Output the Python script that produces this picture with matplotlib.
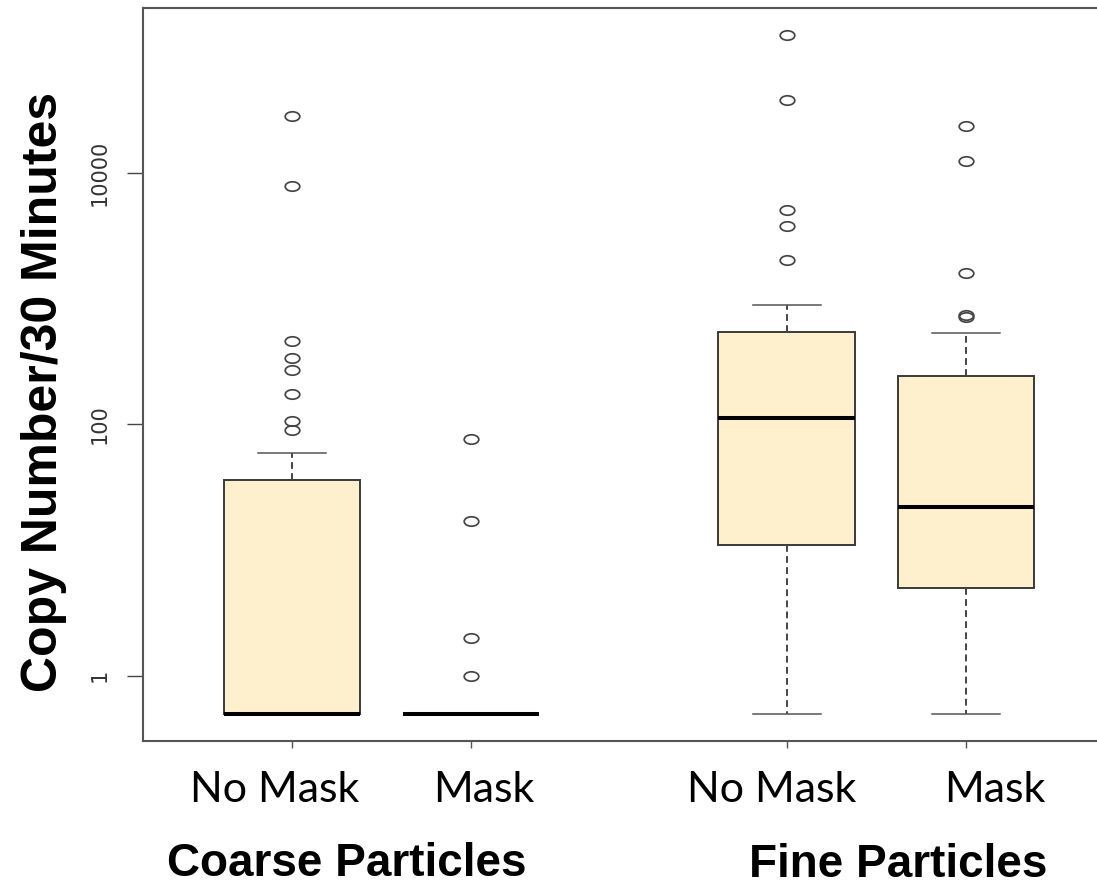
import matplotlib
matplotlib.use("Agg")
import matplotlib.pyplot as plt
from matplotlib.path import Path
from matplotlib.transforms import Affine2D
from matplotlib.ticker import FixedLocator, NullLocator, FixedFormatter

# box summary per group (copies / 30 min, zeros plotted as 0.5)
groups = ['No Mask', 'Mask', 'No Mask', 'Mask']
particles = ['Coarse Particles', 'Fine Particles']
q1 = [0.5, 0.5, 11.0, 5.0]
med = [0.5, 0.5, 113.0, 21.9]
q3 = [36.4, 0.5, 548.0, 242.0]
whislo = [0.5, 0.5, 0.5, 0.5]
whishi = [59.4, 0.5, 894.0, 535.0]
fliers = [
    [28700, 7850, 459, 336, 272, 174, 106, 91],
    [75.9, 17.0, 2.0, 1.0],
    [124800, 38400, 5130, 3830, 2025],
    [23750, 12400, 1616, 749, 713],
]
yticks = [1, 100, 10000]
ytick_labels = ['1', '100', '10000']

positions = [1, 2, 3.76, 4.76]

W, H = 1097, 886
fig = plt.figure(figsize=(W / 100, H / 100), dpi=100)

def fx(px):
    return px / W

def fy(py):
    return 1 - py / H

left, right, top, bottom = 143.3, 1112, 8.3, 740.7
ax = fig.add_axes([fx(left), fy(bottom), fx(right - left), (bottom - top) / H])

stats = []
for i in range(len(groups)):
    stats.append(dict(med=med[i], q1=q1[i], q3=q3[i], whislo=whislo[i],
                      whishi=whishi[i], fliers=fliers[i]))

# slightly squashed open circles for outliers
ellipse = Path.unit_circle().transformed(Affine2D().scale(1.55, 1.0))

ax.bxp(stats, positions=positions, widths=0.76, capwidths=0.38,
       patch_artist=True, showfliers=True,
       boxprops=dict(facecolor='#FFF0CD', edgecolor='#3a3a3a', linewidth=1.4),
       medianprops=dict(color='black', linewidth=2.9, solid_capstyle='butt'),
       whiskerprops=dict(color='#444444', linewidth=1.4, linestyle=(0, (3.5, 2.2))),
       capprops=dict(color='#555555', linewidth=1.1),
       flierprops=dict(marker=ellipse, markersize=10.5, markerfacecolor='none',
                       markeredgecolor='#444444', markeredgewidth=1.25))

ax.set_yscale('log')
ax.set_ylim(10 ** -0.517, 10 ** 5.312)
ax.set_xlim(0.172, 1 + (right - 291.7) / 179.3)

ax.yaxis.set_major_locator(FixedLocator(yticks))
ax.yaxis.set_major_formatter(FixedFormatter(ytick_labels))
ax.yaxis.set_minor_locator(NullLocator())
ax.set_xticks(positions)
ax.set_xticklabels([])
ax.xaxis.set_minor_locator(NullLocator())

ax.tick_params(axis='y', length=11.5, width=1.0, color='#444444', pad=12.5,
               labelsize=15, labelcolor='#333333', labelrotation=90)
for lab in ax.get_yticklabels():
    lab.set_va('center')
ax.tick_params(axis='x', length=5, width=1.0, color='#555555')

for sp in ax.spines.values():
    sp.set_color('#555555')
    sp.set_linewidth(1.5)

fig.text(fx(57), fy(391.5), 'Copy Number/30 Minutes', rotation=90,
         rotation_mode='anchor', ha='center', va='baseline',
         fontsize=36, fontweight='bold', family='Liberation Sans')

# group labels under the axis
label_x = [275, 484, 772, 995]
for x, g in zip(label_x, groups):
    fig.text(fx(x), fy(802), g, ha='center', va='baseline',
             fontsize=31, family='Lato', color='black')

fig.text(fx(347), fy(876), particles[0], ha='center', va='baseline',
         fontsize=33, fontweight='bold', family='Liberation Sans')
fig.text(fx(898), fy(877), particles[1], ha='center', va='baseline',
         fontsize=33, fontweight='bold', family='Liberation Sans')

fig.savefig('out.png', dpi=100)
